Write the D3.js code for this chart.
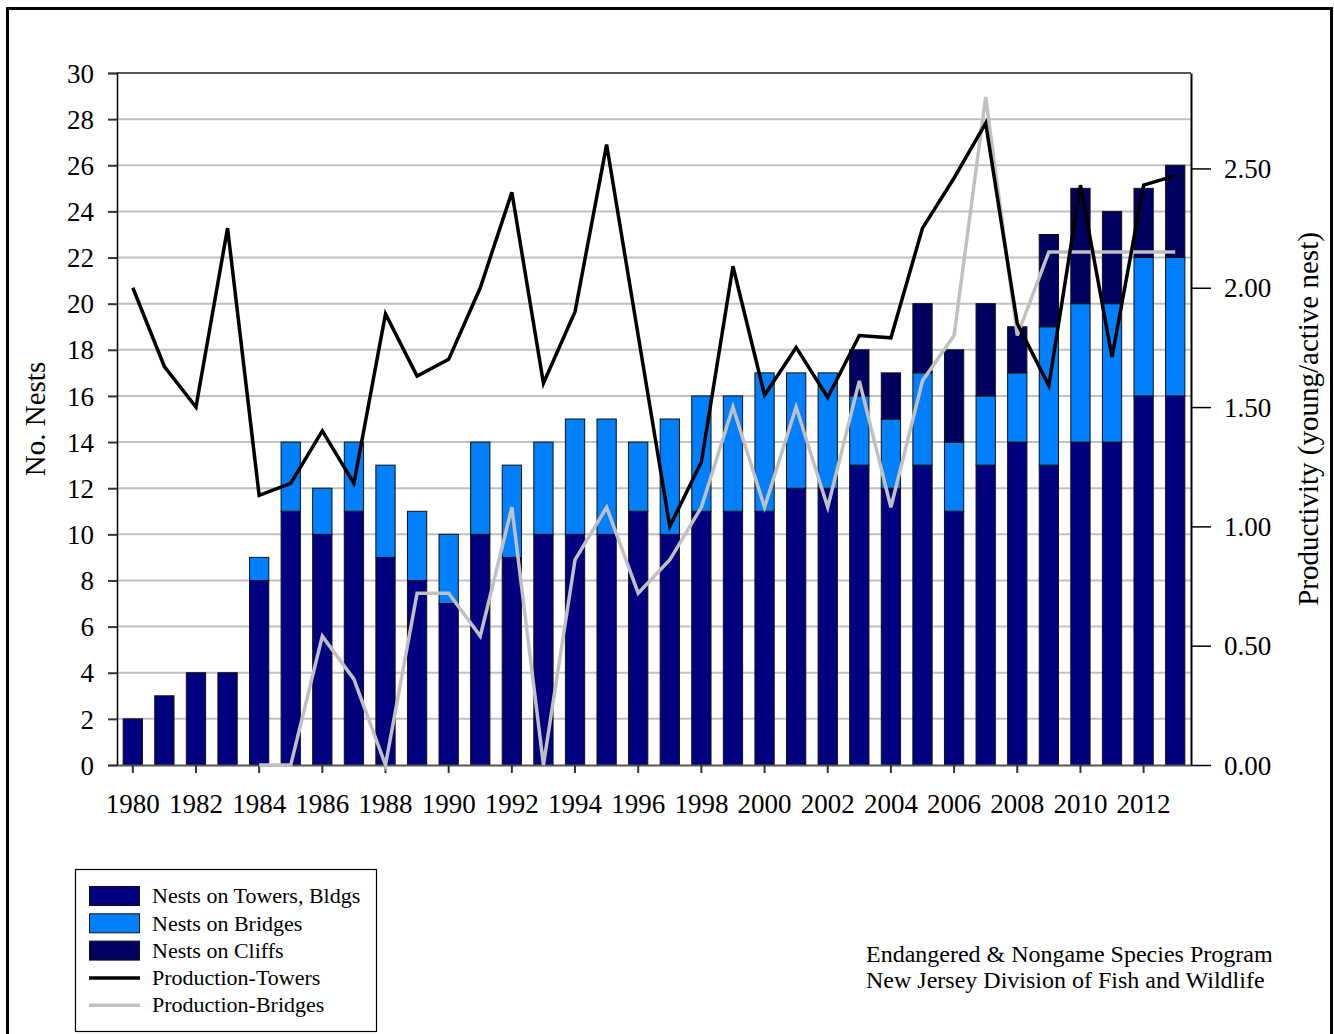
<!DOCTYPE html>
<html>
<head>
<meta charset="utf-8">
<script src="https://cdn.jsdelivr.net/npm/d3@7"></script>
<style>
  html, body { margin: 0; padding: 0; background: #fff; }
  svg { display: block; }
  text { font-family: "Liberation Serif", "Times New Roman", serif; fill: #000; }
</style>
</head>
<body>
<svg id="chart" width="1334" height="1034"></svg>
<script>
// ---------- DATA ----------
const years = [1980,1981,1982,1983,1984,1985,1986,1987,1988,1989,1990,1991,1992,1993,1994,1995,1996,1997,1998,1999,2000,2001,2002,2003,2004,2005,2006,2007,2008,2009,2010,2011,2012,2013];
const nestsTowers  = [2,3,4,4,8,11,10,11,9,8,7,10,9,10,10,10,11,10,11,11,11,12,12,13,12,13,11,13,14,13,14,14,16,16];
const nestsBridges = [0,0,0,0,1,3,2,3,4,3,3,4,4,4,5,5,3,5,5,5,6,5,5,3,3,4,3,3,3,6,6,6,6,6];
const nestsCliffs  = [0,0,0,0,0,0,0,0,0,0,0,0,0,0,0,0,0,0,0,0,0,0,0,2,2,3,4,4,2,4,5,4,3,4];
const prodTowers   = [2.00,1.67,1.50,2.25,1.13,1.18,1.40,1.18,1.89,1.63,1.70,2.00,2.40,1.60,1.90,2.60,1.80,1.00,1.27,2.09,1.55,1.75,1.54,1.80,1.79,2.25,2.46,2.69,1.85,1.59,2.43,1.71,2.43,2.47];
const prodBridges  = [null,null,null,null,0.00,0.00,0.54,0.36,0.00,0.72,0.72,0.54,1.08,0.00,0.86,1.08,0.72,0.86,1.08,1.50,1.08,1.50,1.08,1.61,1.08,1.61,1.80,2.80,1.80,2.15,2.15,2.15,2.15,2.15];
const leftTicks  = [0,2,4,6,8,10,12,14,16,18,20,22,24,26,28,30];
const rightTicks = [0.00,0.50,1.00,1.50,2.00,2.50];
const xTickYears = [1980,1982,1984,1986,1988,1990,1992,1994,1996,1998,2000,2002,2004,2006,2008,2010,2012];
const seriesNames = ["Nests on Towers, Bldgs","Nests on Bridges","Nests on Cliffs","Production-Towers","Production-Bridges"];
const leftTitle = "No. Nests";
const rightTitle = "Productivity (young/active nest)";
const footer = ["Endangered & Nongame Species Program","New Jersey Division of Fish and Wildlife"];

// ---------- LAYOUT ----------
const colors = { towers: "#000080", bridges: "#0080FF", cliffs: "#000060", lineT: "#000000", lineB: "#C0C0C0" };
const plot = { left: 117, right: 1191, top: 73, bottom: 765 };
const svg = d3.select("#chart");

// outer frame
svg.append("rect").attr("x", 7.5).attr("y", 8.5).attr("width", 1324).attr("height", 1040)
  .attr("fill", "none").attr("stroke", "#000").attr("stroke-width", 3);

const x = d3.scaleBand().domain(years).range([plot.left, plot.right]).paddingInner(0.39).paddingOuter(0.195);
const yL = d3.scaleLinear().domain([0, 30]).range([plot.bottom, plot.top]);
const yR = d3.scaleLinear().domain([0, 2.9]).range([plot.bottom, plot.top]);

// gridlines
svg.append("g").selectAll("line").data(leftTicks.filter(d => d > 0 && d < 30)).join("line")
  .attr("x1", plot.left).attr("x2", plot.right)
  .attr("y1", d => yL(d)).attr("y2", d => yL(d))
  .attr("stroke", "#C0C0C0").attr("stroke-width", 2);
// top border
svg.append("line").attr("x1", plot.left).attr("x2", plot.right).attr("y1", yL(30)).attr("y2", yL(30))
  .attr("stroke", "#555").attr("stroke-width", 2);

// stacked bars
const rows = years.map((yr, i) => ({ year: yr, towers: nestsTowers[i], bridges: nestsBridges[i], cliffs: nestsCliffs[i] }));
const stack = d3.stack().keys(["towers", "bridges", "cliffs"])(rows);
const gBars = svg.append("g");
stack.forEach(layer => {
  gBars.append("g").attr("fill", colors[layer.key]).selectAll("rect")
    .data(layer.filter(d => d[1] - d[0] > 0)).join("rect")
    .attr("x", d => x(d.data.year)).attr("width", x.bandwidth())
    .attr("y", d => yL(d[1])).attr("height", d => yL(d[0]) - yL(d[1]))
    .attr("stroke", "#111").attr("stroke-width", 1);
});

// axes
const axL = d3.axisLeft(yL).tickValues(leftTicks).tickSize(9).tickPadding(14).tickFormat(d3.format("d"));
const gL = svg.append("g").attr("transform", `translate(${plot.left},0)`).call(axL);
gL.select(".domain").attr("stroke", "#000").attr("stroke-width", 1.5);
gL.selectAll(".tick line").attr("stroke", "#333").attr("stroke-width", 2);
gL.selectAll("text").attr("font-size", 27).attr("font-family", "Liberation Serif").attr("dy", "0.34em");

const axR = d3.axisRight(yR).tickValues(rightTicks).tickSize(20).tickSizeOuter(0).tickPadding(13).tickFormat(d3.format(".2f"));
const gR = svg.append("g").attr("transform", `translate(${plot.right},0)`).call(axR);
gR.select(".domain").attr("stroke", "#000").attr("stroke-width", 2);
gR.selectAll(".tick line").attr("stroke", "#000").attr("stroke-width", 1.5);
gR.selectAll("text").attr("font-size", 27).attr("font-family", "Liberation Serif").attr("dy", "0.34em");

const axB = d3.axisBottom(x).tickValues(xTickYears).tickSize(8).tickPadding(21).tickSizeOuter(0);
const gB = svg.append("g").attr("transform", `translate(0,${plot.bottom})`).call(axB);
gB.select(".domain").attr("stroke", "#555").attr("stroke-width", 2);
gB.selectAll(".tick line").attr("stroke", "#333").attr("stroke-width", 2);
gB.selectAll("text").attr("font-size", 27).attr("font-family", "Liberation Serif");
svg.selectAll(".tick text").attr("fill", "#000");

// lines
const cx = yr => x(yr) + x.bandwidth() / 2;
const lineB = d3.line().defined(d => d.v !== null).x(d => cx(d.year)).y(d => yR(d.v));
svg.append("path").datum(years.map((yr, i) => ({ year: yr, v: prodBridges[i] })))
  .attr("d", lineB).attr("fill", "none").attr("stroke", colors.lineB).attr("stroke-width", 3.5).attr("stroke-linejoin", "miter");
svg.append("path").datum(years.map((yr, i) => ({ year: yr, v: prodTowers[i] })))
  .attr("d", lineB).attr("fill", "none").attr("stroke", colors.lineT).attr("stroke-width", 3.5).attr("stroke-linejoin", "miter");

// axis titles
svg.append("text").attr("transform", "translate(45,419) rotate(-90)").attr("text-anchor", "middle")
  .attr("font-size", 29).text(leftTitle);
svg.append("text").attr("transform", "translate(1318,419) rotate(-90)").attr("text-anchor", "middle")
  .attr("font-size", 29).text(rightTitle);

// legend
const lg = svg.append("g");
lg.append("rect").attr("x", 75.5).attr("y", 869.5).attr("width", 301).attr("height", 162)
  .attr("fill", "#fff").attr("stroke", "#000").attr("stroke-width", 1.2);
const legendItems = [
  { name: seriesNames[0], type: "rect", color: colors.towers },
  { name: seriesNames[1], type: "rect", color: colors.bridges },
  { name: seriesNames[2], type: "rect", color: colors.cliffs },
  { name: seriesNames[3], type: "line", color: colors.lineT },
  { name: seriesNames[4], type: "line", color: colors.lineB }
];
legendItems.forEach((it, i) => {
  const cy = 896 + i * 27.3;
  if (it.type === "rect") {
    lg.append("rect").attr("x", 89.5).attr("y", cy - 9.5).attr("width", 50).attr("height", 19)
      .attr("fill", it.color).attr("stroke", "#111").attr("stroke-width", 1);
  } else {
    lg.append("line").attr("x1", 89).attr("x2", 140).attr("y1", cy).attr("y2", cy)
      .attr("stroke", it.color).attr("stroke-width", 3.5);
  }
  lg.append("text").attr("x", 152).attr("y", cy).attr("dy", "0.33em").attr("font-size", 22).text(it.name);
});

// footer
svg.append("text").attr("x", 866).attr("y", 962).attr("font-size", 24).text(footer[0]);
svg.append("text").attr("x", 866).attr("y", 988).attr("font-size", 24).text(footer[1]);
</script>
</body>
</html>
